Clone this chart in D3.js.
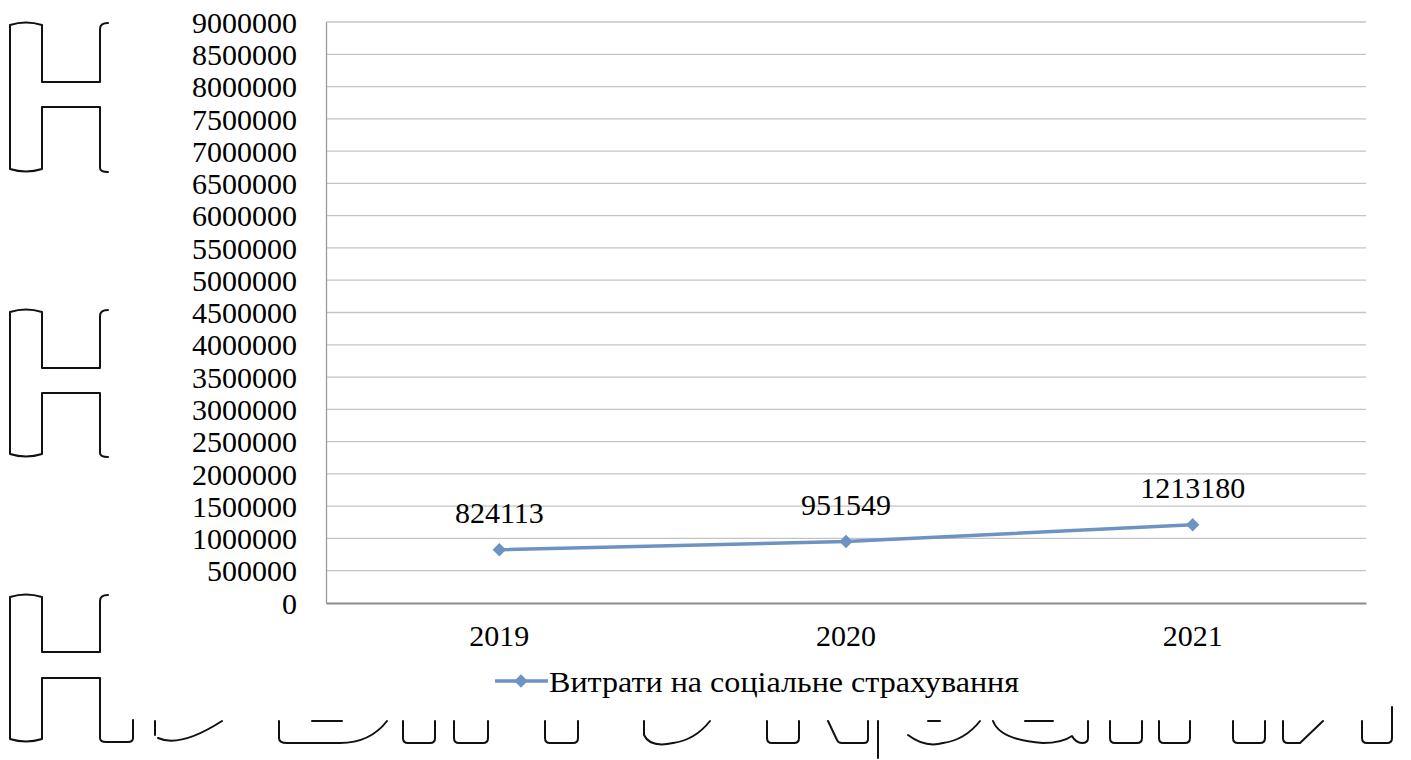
<!DOCTYPE html>
<html>
<head>
<meta charset="utf-8">
<script src="https://cdn.jsdelivr.net/npm/d3@7"></script>
<style>
  html, body { margin: 0; padding: 0; background: #fff; }
  svg { display: block; }
</style>
</head>
<body>
<svg id="chart" width="1411" height="760"></svg>
<script>
// Social insurance expenses by year
const years = ["2019", "2020", "2021"];
const expenses = [824113, 951549, 1213180];
const seriesName = "Витрати на соціальне страхування";
const yTicks = d3.range(0, 9000001, 500000);

const W = 1411, H = 760;
const plot = { left: 326, right: 1366, top: 22, bottom: 603 };
const lineColor = "#6d93c3";
const FONT = "Liberation Serif, serif";

const svg = d3.select("#chart");
svg.append("rect").attr("width", W).attr("height", H).attr("fill", "#fff");

// Large outlined lettering in the background
const deco = svg.append("g").attr("fill", "none").attr("stroke", "#111")
  .attr("stroke-width", 2).attr("stroke-linecap", "round").attr("stroke-linejoin", "round");

function letterH(top, bar1, bar2, bottom) {
  return `M108,${top + 1} Q100,${top + 1} 100,${top + 7} L100,${bar1} L42,${bar1} L42,${top + 3}` +
    ` Q26,${top - 2} 10,${top + 3} L10,${bottom - 3} Q26,${bottom + 2} 42,${bottom - 3}` +
    ` L42,${bar2} L100,${bar2} L100,${bottom - 4} Q100,${bottom} 108,${bottom}`;
}
deco.append("path").attr("d", letterH(22, 82, 107, 172));
deco.append("path").attr("d", letterH(309, 368, 393, 457));
deco.append("path").attr("d",
  "M108,595 Q100,595 100,601 L100,652 L42,652 L42,597 Q26,592 10,597 L10,739 Q26,744 42,739" +
  " L42,678 L100,678 L100,738 Q100,742 106,742 L128,742 Q133,742 133,738 L133,720");

// bottom row of letter fragments
const y0 = 721, yb = 743;
const uShape = (a, b) => `M${a},${y0} L${a},${yb - 5} Q${a},${yb} ${a + 5},${yb} L${b - 5},${yb} Q${b},${yb} ${b},${yb - 5} L${b},${y0}`;
const fragments = [
  `M155,${y0} L155,735`,
  `M158,738 Q180,748 222,${y0}`,
  `M279,${y0} L279,738 Q279,${yb} 287,${yb} L340,${yb} Q370,${yb} 387,${y0}`,
  `M312,${y0} L342,${y0}`,
  uShape(403, 435), uShape(454, 488), uShape(545, 578),
  `M644,${y0} L644,735 Q650,748 673,${yb} Q695,740 710,${y0}`,
  uShape(767, 799),
  `M828,${y0} L837,${yb - 3} Q838,${yb} 842,${yb} L864,${yb} Q868,${yb} 868,${yb - 4} L868,${y0}`,
  `M878,${y0} L878,758`,
  `M908,735 Q925,748 943,${yb} Q965,740 980,${y0}`,
  `M928,${y0} L940,${y0}`,
  `M993,${y0} Q1000,740 1043,${yb} Q1062,${yb} 1072,736 Q1076,${yb} 1082,${yb} Q1088,${yb} 1088,738 L1088,${y0}`,
  `M1025,${y0} L1053,${y0}`,
  uShape(1110, 1142), uShape(1159, 1190), uShape(1233, 1265),
  `M1283,${y0} L1283,738 Q1283,${yb} 1288,${yb} L1300,${yb} L1323,${y0}`,
  `M1362,${y0} L1362,738 Q1362,${yb} 1367,${yb} L1387,${yb} Q1392,${yb} 1392,738 L1392,707`
];
fragments.forEach(d => deco.append("path").attr("d", d));

// Scales
const x = d3.scaleBand().domain(years).range([plot.left, plot.right]);
const y = d3.scaleLinear().domain([0, 9000000]).range([plot.bottom, plot.top]);

// Gridlines
svg.append("g")
  .selectAll("line").data(yTicks.filter(t => t > 0)).join("line")
  .attr("x1", plot.left).attr("x2", plot.right)
  .attr("y1", d => y(d)).attr("y2", d => y(d))
  .attr("stroke", "#c4c4c4").attr("stroke-width", 1.3);

// Y axis
const yAxis = svg.append("g")
  .attr("transform", `translate(${plot.left},0)`)
  .call(d3.axisLeft(y).tickValues(yTicks).tickSize(0).tickPadding(29).tickFormat(d3.format("d")));
yAxis.select(".domain").attr("stroke", "#9a9a9a").attr("stroke-width", 1.3);
yAxis.selectAll("text").style("font-family", FONT).style("font-size", "30px")
  .attr("fill", "#000").attr("dy", "0.34em");

// X axis
const xAxis = svg.append("g")
  .attr("transform", `translate(0,${plot.bottom})`)
  .call(d3.axisBottom(x).tickSize(0).tickPadding(22));
xAxis.select(".domain").attr("stroke", "#8c8c8c").attr("stroke-width", 2);
xAxis.selectAll("text").style("font-family", FONT).style("font-size", "30px").attr("fill", "#000");

// Series line
const cx = d => x(d) + x.bandwidth() / 2;
const pts = years.map((yr, i) => ({ year: yr, value: expenses[i] }));
svg.append("path")
  .datum(pts)
  .attr("fill", "none")
  .attr("stroke", lineColor)
  .attr("stroke-width", 3.5)
  .attr("d", d3.line().x(d => cx(d.year)).y(d => y(d.value)));

const diamond = d3.symbol(d3.symbolSquare, 90);
svg.append("g").selectAll("path").data(pts).join("path")
  .attr("d", diamond)
  .attr("fill", lineColor)
  .attr("transform", d => `translate(${cx(d.year)},${y(d.value)}) rotate(45)`);

// Value labels
svg.append("g").selectAll("text").data(pts).join("text")
  .attr("x", d => cx(d.year))
  .attr("y", d => y(d.value) - 27)
  .attr("text-anchor", "middle")
  .style("font-family", FONT).style("font-size", "30px")
  .text(d => d.value);

// Legend
const lg = svg.append("g").attr("transform", "translate(495,681)");
lg.append("line").attr("x1", 0).attr("x2", 53).attr("stroke", lineColor).attr("stroke-width", 3.5);
lg.append("path").attr("d", diamond).attr("fill", lineColor).attr("transform", "translate(26,0) rotate(45)");
lg.append("text").attr("x", 54).attr("y", 11)
  .attr("textLength", 470).attr("lengthAdjust", "spacingAndGlyphs")
  .style("font-family", FONT).style("font-size", "30px").text(seriesName);
</script>
</body>
</html>
